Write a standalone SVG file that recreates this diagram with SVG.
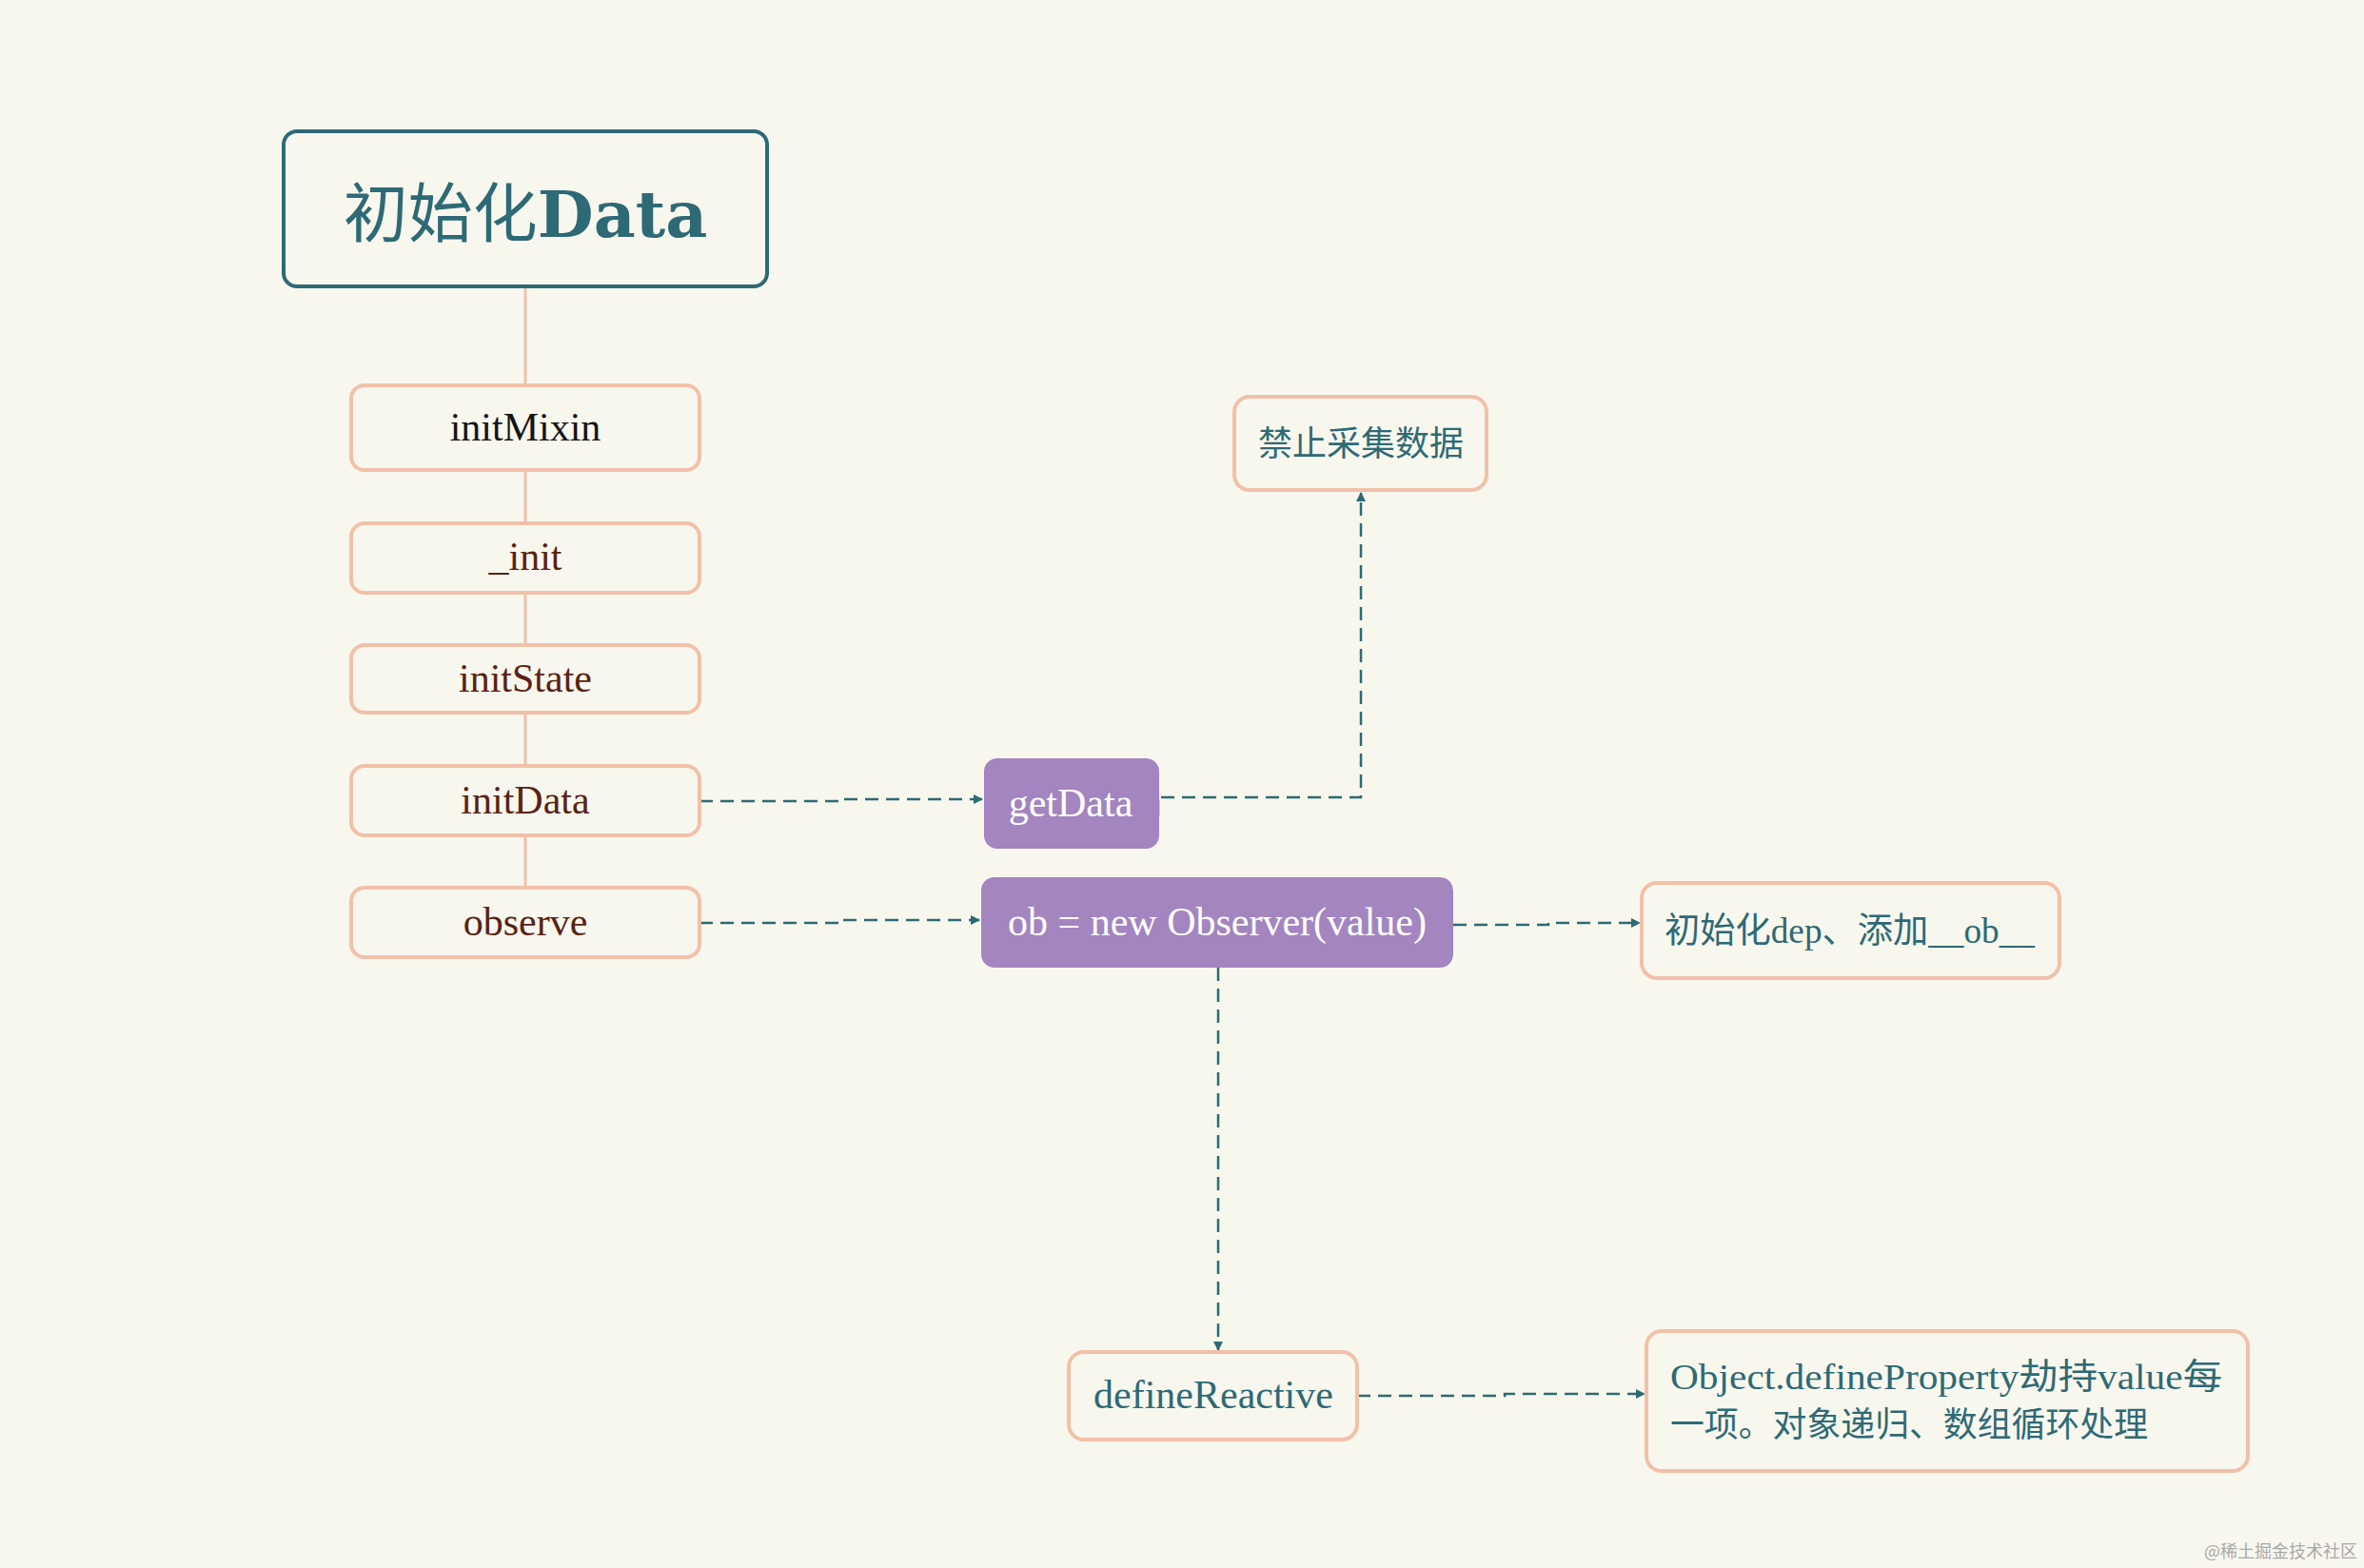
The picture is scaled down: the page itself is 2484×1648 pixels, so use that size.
<svg xmlns="http://www.w3.org/2000/svg" width="2484" height="1648" viewBox="0 0 2484 1648">
<defs>
<marker id="arr" viewBox="0 0 10 10" refX="9" refY="5" markerWidth="4" markerHeight="4" orient="auto" markerUnits="strokeWidth">
<path d="M0,0 L10,5 L0,10 z" fill="#2c6a74"/>
</marker>
<style>
.bg{fill:#f8f7ee}
.tree{fill:#f8f7ee;stroke:#f2c0a8;stroke-width:4}
.purple{fill:#a385bf;stroke:none}
.solid{stroke:#f2c0a8;stroke-width:3;fill:none}
.dash{stroke:#2c6a74;stroke-width:2.5;fill:none;stroke-dasharray:14 8}
.lt{font-family:"Liberation Serif","Noto Sans CJK SC",serif;font-size:42px;text-anchor:middle}
.brown{fill:#5a2212}
.white{fill:#ffffff}
.teal{fill:#2d6a75}
.cjk{font-family:"Liberation Serif","Noto Sans CJK SC",sans-serif;font-size:37px}
</style>
</defs>
<rect class="bg" x="0" y="0" width="2484" height="1648"/>
<g id="connectors">
<path class="solid" d="M552,301 V405 M552,494 V550 M552,623 V678 M552,749 V805 M552,878 V933"/>
<path class="dash" d="M735,842 H882 V840 H1032" marker-end="url(#arr)"/>
<path class="dash" d="M735,970 H882 V967 H1029" marker-end="url(#arr)"/>
<path class="dash" d="M1220,838 H1430 V518" marker-end="url(#arr)"/>
<path d="M1217,840 V858" stroke="#2c6a74" stroke-width="2.5"/>
<path class="dash" d="M1527,972 H1627 V970 H1723" marker-end="url(#arr)"/>
<path class="dash" d="M1280,1017 V1419" marker-end="url(#arr)"/>
<path class="dash" d="M1426,1467 H1581 V1465 H1728" marker-end="url(#arr)"/>
</g>
<g id="title">
<rect x="298" y="138" width="508" height="163" rx="14" fill="#f8f7ee" stroke="#2d6a75" stroke-width="4"/>
<text x="552" y="249" text-anchor="middle" font-family="DejaVu Serif,Noto Sans CJK SC,serif" font-size="68" fill="#2d6a75"><tspan font-weight="normal">初始化</tspan><tspan font-weight="bold">Data</tspan></text>
</g>
<g id="initMixin">
<rect class="tree" x="369" y="405" width="366" height="89" rx="14"/>
<text class="lt" x="552" y="463" fill="#151515">initMixin</text>
</g>
<g id="init">
<rect class="tree" x="369" y="550" width="366" height="73" rx="14"/>
<text class="lt brown" x="552" y="599">_init</text>
</g>
<g id="initState">
<rect class="tree" x="369" y="678" width="366" height="71" rx="14"/>
<text class="lt brown" x="552" y="727">initState</text>
</g>
<g id="initData">
<rect class="tree" x="369" y="805" width="366" height="73" rx="14"/>
<text class="lt brown" x="552" y="855">initData</text>
</g>
<g id="observe">
<rect class="tree" x="369" y="933" width="366" height="73" rx="14"/>
<text class="lt brown" x="552" y="983">observe</text>
</g>
<g id="getData">
<rect class="purple" x="1034" y="797" width="184" height="95" rx="14"/>
<text class="lt white" x="1125" y="858">getData</text>
</g>
<g id="observer">
<rect class="purple" x="1031" y="922" width="496" height="95" rx="14"/>
<text class="lt white" x="1279" y="983">ob = new Observer(value)</text>
</g>
<g id="forbid">
<rect class="tree" x="1297" y="417" width="265" height="98" rx="16"/>
<text x="1430" y="479" text-anchor="middle" font-family="Noto Sans CJK SC,sans-serif" font-size="36" fill="#2d6a75">禁止采集数据</text>
</g>
<g id="initDep">
<rect class="tree" x="1725" y="928" width="439" height="100" rx="16"/>
<text class="cjk teal" x="1749" y="991" textLength="389" lengthAdjust="spacingAndGlyphs">初始化dep、添加__ob__</text>
</g>
<g id="defineReactive">
<rect class="tree" x="1123" y="1421" width="303" height="92" rx="16"/>
<text class="lt teal" x="1275" y="1480">defineReactive</text>
</g>
<g id="objectDefine">
<rect class="tree" x="1730" y="1399" width="632" height="147" rx="16"/>
<text class="cjk teal" x="1755" y="1460" textLength="580" lengthAdjust="spacingAndGlyphs">Object.defineProperty劫持value每</text>
<text class="teal" x="1755" y="1510" font-family="Noto Sans CJK SC,sans-serif" font-size="36" textLength="502" lengthAdjust="spacingAndGlyphs">一项。对象递归、数组循环处理</text>
</g>
<text x="2477" y="1637" text-anchor="end" font-family="Noto Sans CJK SC,sans-serif" font-size="18" fill="#a8a8a8">@稀土掘金技术社区</text>
</svg>
